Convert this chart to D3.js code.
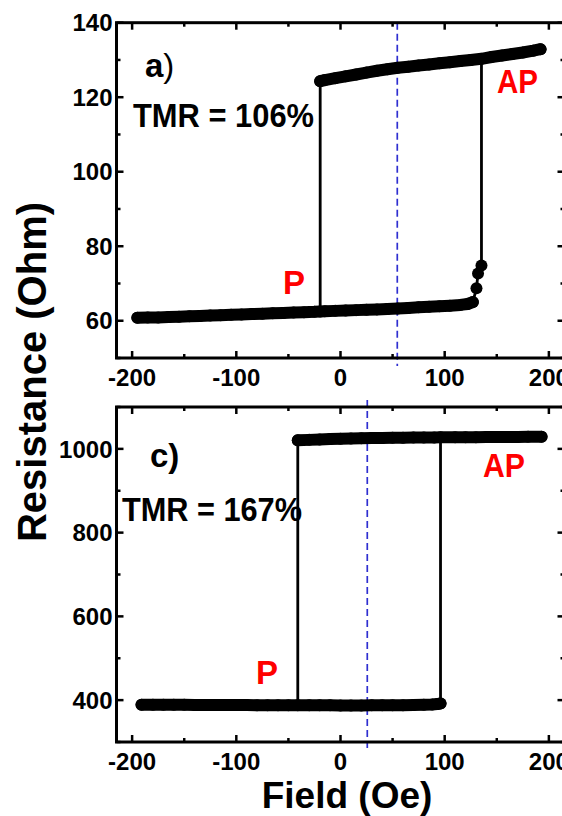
<!DOCTYPE html>
<html><head><meta charset="utf-8">
<script src="https://cdn.jsdelivr.net/npm/d3@7"></script>
<style>
body{margin:0;background:#fff}
svg{display:block;font-family:"Liberation Sans",Arial,sans-serif;font-weight:bold}
</style>
</head><body>
<svg id="chart" width="562" height="816"></svg>
<script>
// ---------------- Data ----------------
// Panel a)
const aLowerField = [-195,-185,-175,-165,-155,-145,-135,-125,-115,-105,-95,-85,-75,-65,-55,-45,-35,-25,-19.5,-15,-5,5,15,25,35,45,55,65,75,85,95,105,115,122,127];
const aLowerRes   = [60.8,60.85,60.9,61.0,61.1,61.2,61.3,61.4,61.5,61.6,61.7,61.8,61.9,62.0,62.1,62.2,62.3,62.4,62.5,62.55,62.65,62.75,62.85,62.95,63.05,63.15,63.3,63.45,63.6,63.75,63.9,64.05,64.25,64.5,65.0];
const aTailField  = [130.5,132,135.3];
const aTailRes    = [68.7,72.7,74.8];
const aUpperField = [-19.5,-15,-5,5,15,25,35,45,55,65,75,85,95,105,115,125,135.3,145,155,165,175,185,192];
const aUpperRes   = [124.3,124.6,125.1,125.6,126.1,126.6,127.1,127.5,127.9,128.2,128.5,128.8,129.1,129.4,129.7,130.0,130.3,130.8,131.2,131.6,132.0,132.5,132.9];
const aSwitchUp = 135.3, aSwitchDown = -19.5;
const aDashField = 54.5;
// Panel c)
const cLowerField = [-191,-180,-170,-160,-150,-140,-130,-120,-110,-100,-90,-80,-70,-60,-50,-41,-30,-20,-10,0,10,20,30,40,50,60,70,80,88,93,96];
const cLowerRes   = [389,389,389,388.8,388.7,388.6,388.5,388.4,388.3,388.2,388.1,388,388,387.9,387.8,387.7,387.6,387.5,387.5,387.4,387.4,387.4,387.5,387.6,387.8,388,388.3,388.8,389.5,390.5,392];
const cUpperField = [-41,-30,-20,-10,0,10,20,30,40,50,60,70,80,90,96,110,120,130,140,150,160,170,180,193];
const cUpperRes   = [1020.5,1021.5,1022.5,1023.3,1024,1024.7,1025.3,1025.8,1026.2,1026.5,1026.8,1027,1027.2,1027.4,1027.5,1027.7,1027.8,1028,1028.2,1028.3,1028.5,1028.6,1028.7,1028.9];
const cSwitchUp = 96, cSwitchDown = -41;
const cDashField = 25.7;
// Axes ticks
const xMajorTicks = [-200,-100,0,100,200];
const xMinorTicks = [-150,-50,50,150];
const aYMajor = [60,80,100,120,140];
const aYMinor = [50,70,90,110,130];
const cYMajor = [400,600,800,1000];
const cYMinor = [300,500,700,900,1100];

// ---------------- Drawing ----------------
const svg = d3.select("#chart");
const x = d3.scaleLinear().domain([-215,215]).range([116.5,564.5]);

function panel(cfg){
  const y = d3.scaleLinear().domain(cfg.yDomain).range(cfg.yRange);
  const g = svg.append("g");
  const [y0,y1] = cfg.yRange; // bottom, top
  const x0 = x.range()[0], x1 = x.range()[1];

  // dashed line
  g.append("line")
    .attr("x1", x(cfg.dash)).attr("x2", x(cfg.dash))
    .attr("y1", y1 + cfg.dashTop).attr("y2", y0 + 8)
    .attr("stroke","#2f2fd0").attr("stroke-width",1.7)
    .attr("stroke-dasharray","7,4");

  const P = (f,r)=>f.map((v,i)=>[x(v),y(r[i])]);
  const lower = P(cfg.lowerField,cfg.lowerRes);
  const upper = P(cfg.upperField,cfg.upperRes);
  const tail = P(cfg.tailField||[],cfg.tailRes||[]);

  // sweeps (thin connecting line)
  const up = [];
  cfg.lowerField.forEach((f,i)=>{ if(f<=cfg.switchUp) up.push(lower[i]); });
  tail.forEach(p=>up.push(p));
  cfg.upperField.forEach((f,i)=>{ if(f>=cfg.switchUp) up.push(upper[i]); });
  const down = [];
  cfg.upperField.forEach((f,i)=>{ if(f>=cfg.switchDown) down.push(upper[i]); });
  down.reverse();
  const lowDown = [];
  cfg.lowerField.forEach((f,i)=>{ if(f<=cfg.switchDown) lowDown.push(lower[i]); });
  lowDown.reverse();
  const downAll = down.concat(lowDown);
  const line = d3.line();
  [up, downAll].forEach(s=>g.append("path").attr("d",line(s))
      .attr("fill","none").attr("stroke","#000").attr("stroke-width",2.8));

  // dense symbols: band + circles
  [lower, upper].forEach(s=>{
    g.append("path").attr("d",line(s)).attr("fill","none")
      .attr("stroke","#000").attr("stroke-width",cfg.band)
      .attr("stroke-linecap","round").attr("stroke-linejoin","round");
    g.selectAll(null).data(s).enter().append("circle")
      .attr("cx",d=>d[0]).attr("cy",d=>d[1]).attr("r",cfg.band/2).attr("fill","#000");
  });
  g.selectAll(null).data(tail).enter().append("circle")
    .attr("cx",d=>d[0]).attr("cy",d=>d[1]).attr("r",cfg.band/2).attr("fill","#000");

  // frame
  g.append("rect").attr("x",x0).attr("y",y1).attr("width",x1-x0).attr("height",y0-y1)
    .attr("fill","none").attr("stroke","#000").attr("stroke-width",3);

  // ticks (inward, all sides)
  const tk = (arr,len,axis)=>arr.forEach(v=>{
    if(axis==="x"){
      g.append("line").attr("x1",x(v)).attr("x2",x(v)).attr("y1",y0).attr("y2",y0-len).attr("stroke","#000").attr("stroke-width",2.5);
      g.append("line").attr("x1",x(v)).attr("x2",x(v)).attr("y1",y1).attr("y2",y1+len).attr("stroke","#000").attr("stroke-width",2.5);
    } else {
      g.append("line").attr("y1",y(v)).attr("y2",y(v)).attr("x1",x0).attr("x2",x0+len).attr("stroke","#000").attr("stroke-width",2.5);
      g.append("line").attr("y1",y(v)).attr("y2",y(v)).attr("x1",x1).attr("x2",x1-len).attr("stroke","#000").attr("stroke-width",2.5);
    }
  });
  tk(xMajorTicks,7,"x"); tk(xMinorTicks,4,"x");
  tk(cfg.yMajor,7,"y"); tk(cfg.yMinor,4,"y");

  // tick labels
  g.selectAll(null).data(xMajorTicks).enter().append("text")
    .attr("x",d=>x(d)).attr("y",y0+28).attr("text-anchor","middle")
    .attr("font-size",24).text(d=>d);
  g.selectAll(null).data(cfg.yMajor).enter().append("text")
    .attr("x",x0-4).attr("y",d=>y(d)).attr("dy","0.36em").attr("text-anchor","end")
    .attr("font-size",24).text(d=>d);

  // annotations
  cfg.texts.forEach(t=>{
    const el = g.append("text").attr("x",t.x).attr("y",t.y).attr("font-size",t.size)
      .attr("fill",t.color||"#000");
    if(t.len) el.attr("textLength",t.len).attr("lengthAdjust","spacingAndGlyphs");
    if(t.paren){ el.append("tspan").text(t.text); el.append("tspan").attr("font-weight","normal").text(")"); }
    else el.text(t.text);
  });
}

panel({
  yDomain:[50,140], yRange:[358,22.7], yMajor:aYMajor, yMinor:aYMinor,
  lowerField:aLowerField, lowerRes:aLowerRes, upperField:aUpperField, upperRes:aUpperRes,
  tailField:aTailField, tailRes:aTailRes, switchUp:aSwitchUp, switchDown:aSwitchDown,
  dash:aDashField, dashTop:0, band:12,
  texts:[
    {text:"a", paren:true, x:145, y:77, size:33},
    {text:"TMR = 106%", x:133, y:127, size:34, len:181},
    {text:"AP", x:497, y:93, size:33, color:"#ff0000", len:41},
    {text:"P", x:283, y:294, size:33, color:"#ff0000"}
  ]
});
panel({
  yDomain:[300,1100], yRange:[742,407], yMajor:cYMajor, yMinor:cYMinor,
  lowerField:cLowerField, lowerRes:cLowerRes, upperField:cUpperField, upperRes:cUpperRes,
  switchUp:cSwitchUp, switchDown:cSwitchDown,
  dash:cDashField, dashTop:-7, band:12,
  texts:[
    {text:"c)", x:150, y:467, size:33},
    {text:"TMR = 167%", x:122, y:521, size:34, len:180},
    {text:"AP", x:483, y:477, size:33, color:"#ff0000", len:42},
    {text:"P", x:256, y:684, size:33, color:"#ff0000"}
  ]
});

// axis titles
svg.append("text").attr("x",347).attr("y",808).attr("text-anchor","middle")
  .attr("font-size",37).text("Field (Oe)");
svg.append("text").attr("transform","translate(46,372) rotate(-90)").attr("text-anchor","middle")
  .attr("font-size",40).text("Resistance (Ohm)");
</script>
</body></html>
